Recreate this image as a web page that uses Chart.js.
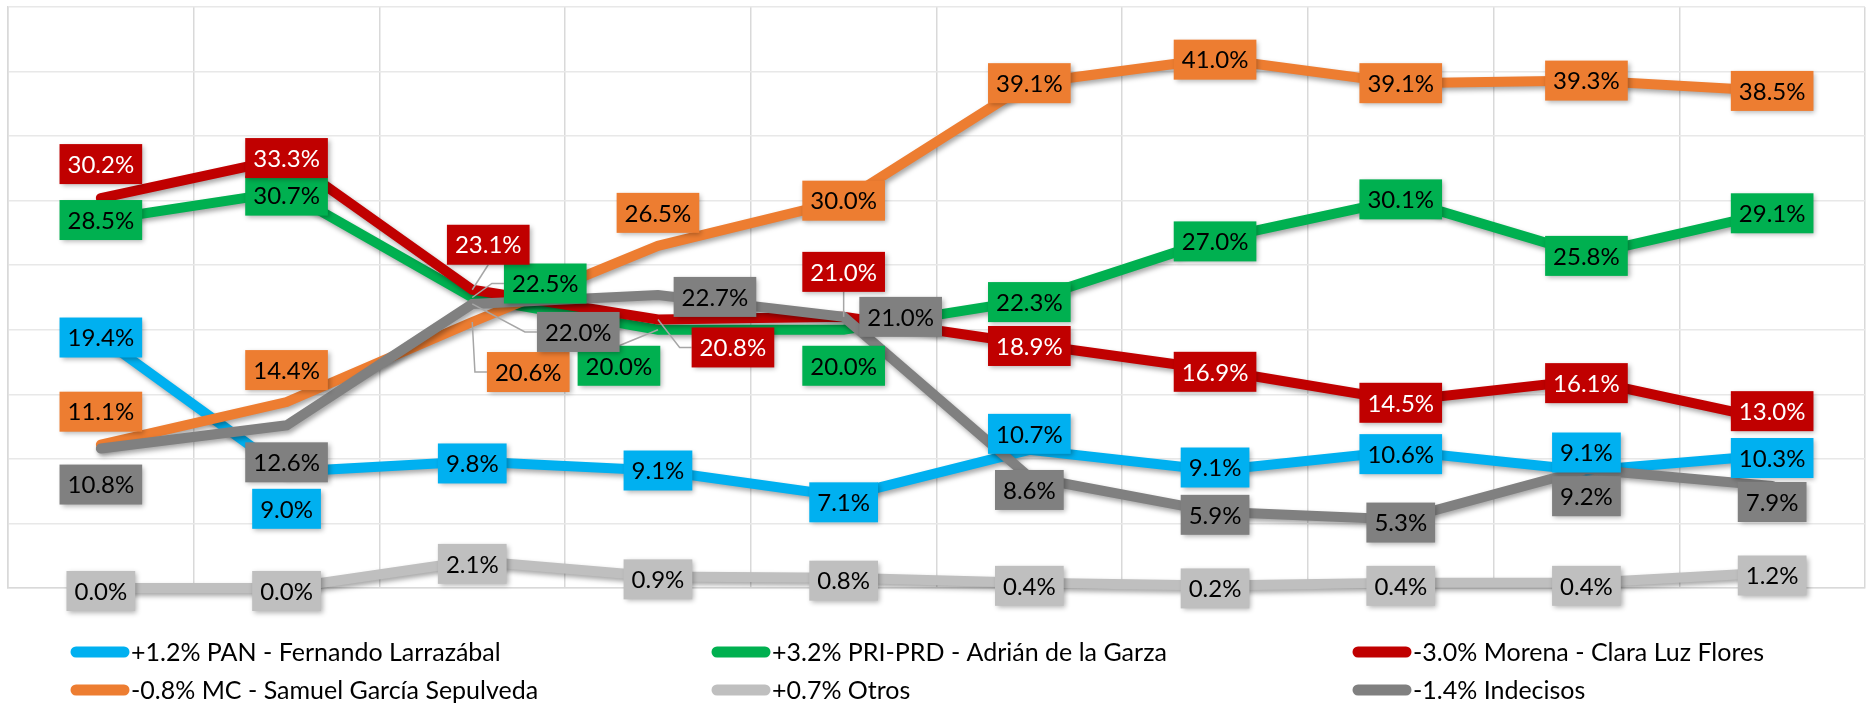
<!DOCTYPE html>
<html>
<head>
<meta charset="utf-8">
<script src="https://cdn.jsdelivr.net/npm/chart.js@4.4.0/dist/chart.umd.min.js"></script>
<style>
  html, body { margin: 0; padding: 0; background: #ffffff; }
  #wrap { position: relative; width: 1866px; height: 707px; }
</style>
</head>
<body>
<div id="wrap"><canvas id="c"></canvas></div>
<script>
// ---- data ----
const categories = ['Medición 1','Medición 2','Medición 3','Medición 4','Medición 5','Medición 6','Medición 7','Medición 8','Medición 9','Medición 10'];
const seriesNames = [
  '+1.2% PAN - Fernando Larrazábal',
  '+3.2% PRI-PRD - Adrián de la Garza',
  '-3.0% Morena - Clara Luz Flores',
  '-0.8% MC - Samuel García Sepulveda',
  '+0.7% Otros',
  '-1.4% Indecisos'
];
const pan       = [19.4, 9.0, 9.8, 9.1, 7.1, 10.7, 9.1, 10.6, 9.1, 10.3];
const priPrd    = [28.5, 30.7, 22.5, 20.0, 20.0, 22.3, 27.0, 30.1, 25.8, 29.1];
const morena    = [30.2, 33.3, 23.1, 20.8, 21.0, 18.9, 16.9, 14.5, 16.1, 13.0];
const mc        = [11.1, 14.4, 20.6, 26.5, 30.0, 39.1, 41.0, 39.1, 39.3, 38.5];
const otros     = [0.0, 0.0, 2.1, 0.9, 0.8, 0.4, 0.2, 0.4, 0.4, 1.2];
const indecisos = [10.8, 12.6, 22.0, 22.7, 21.0, 8.6, 5.9, 5.3, 9.2, 7.9];
const yTicks = [0, 5, 10, 15, 20, 25, 30, 35, 40, 45];

// ---- styles ----
const colors = ['#00B0F0', '#00B050', '#C00000', '#ED7D31', '#BFBFBF', '#808080'];
const labelTextColors = ['#000000', '#000000', '#FFFFFF', '#000000', '#000000', '#000000'];

// label displacement (px) relative to the plotted point; third item = leader line
const labelOffsets = [
  [[0,0],[0,37],[0,2],[0,0],[0,6],[0,-16],[0,-3],[0,3],[0,-18],[0,3]],
  [[0,0],[0,4],[73,-14,1],[-39,36,1],[0,36],[0,2],[0,2],[0,0],[0,1],[0,1]],
  [[0,-34],[0,0],[16,-45,1],[75,28,1],[0,-45,1],[0,2],[0,2],[0,2],[0,3],[0,-9]],
  [[0,-33],[0,-32],[56,50,1],[0,-33],[0,0],[0,0],[0,1],[0,0],[0,0],[0,0]],
  [[0,3],[0,3],[0,3],[0,3],[0,3],[0,3],[0,3],[0,3],[0,3],[0,3]],
  [[0,36],[0,37],[106,28,1],[57,2],[57,0],[0,13],[0,3],[0,3],[0,27],[0,16]]
];

const allSeries = [pan, priPrd, morena, mc, otros, indecisos];
const LABEL_FONT = '24px Lato';
const BOX_H = 40;
const BOX_PAD = 8;

const shadowPlugin = {
  id: 'lineShadow',
  beforeDatasetDraw(chart) {
    const ctx = chart.ctx;
    ctx.save();
    ctx.shadowColor = 'rgba(0,0,0,0.35)';
    ctx.shadowBlur = 5;
    ctx.shadowOffsetX = 2;
    ctx.shadowOffsetY = 3;
  },
  afterDatasetDraw(chart) {
    chart.ctx.restore();
  }
};

function fmt(v) { return v.toFixed(1) + '%'; }

const labelPlugin = {
  id: 'pointLabels',
  afterDatasetsDraw(chart) {
    const ctx = chart.ctx;
    ctx.save();
    ctx.font = LABEL_FONT;
    const items = [];
    allSeries.forEach((vals, di) => {
      const meta = chart.getDatasetMeta(di);
      meta.data.forEach((pt, i) => {
        const off = labelOffsets[di][i];
        const text = fmt(vals[i]);
        const w = ctx.measureText(text).width + BOX_PAD * 2;
        items.push({di, px: pt.x, py: pt.y, cx: pt.x + off[0], cy: pt.y + off[1], w, text, leader: !!off[2]});
      });
    });
    // leader lines
    ctx.strokeStyle = '#A6A6A6';
    ctx.lineWidth = 1.5;
    items.forEach(it => {
      if (!it.leader) return;
      const dx = it.cx - it.px;
      ctx.beginPath();
      ctx.moveTo(it.px, it.py);
      if (Math.abs(dx) > it.w / 2) {
        const s = Math.sign(dx);
        const edge = it.cx - s * it.w / 2;
        ctx.lineTo(edge - s * 12, it.cy);
        ctx.lineTo(edge, it.cy);
      } else {
        const edgeY = it.cy > it.py ? it.cy - BOX_H / 2 : it.cy + BOX_H / 2;
        ctx.lineTo(it.cx, edgeY);
      }
      ctx.stroke();
    });
    // boxes + text, series by series
    items.forEach(it => {
      ctx.save();
      ctx.shadowColor = 'rgba(0,0,0,0.3)';
      ctx.shadowBlur = 5;
      ctx.shadowOffsetX = 2;
      ctx.shadowOffsetY = 2;
      ctx.fillStyle = colors[it.di];
      ctx.fillRect(it.cx - it.w / 2, it.cy - BOX_H / 2, it.w, BOX_H);
      ctx.restore();
      ctx.fillStyle = labelTextColors[it.di];
      ctx.textAlign = 'center';
      ctx.textBaseline = 'middle';
      ctx.fillText(it.text, it.cx, it.cy + 1);
    });
    ctx.restore();
  }
};

const legendPlugin = {
  id: 'gridLegend',
  afterDraw(chart) {
    const ctx = chart.ctx;
    const colX = [70, 711, 1352];
    const rowY = [652, 690];
    ctx.save();
    ctx.font = '25px Lato';
    ctx.textAlign = 'left';
    ctx.textBaseline = 'middle';
    seriesNames.forEach((name, i) => {
      const x = colX[i % 3];
      const y = rowY[Math.floor(i / 3)];
      ctx.strokeStyle = colors[i];
      ctx.lineWidth = 11;
      ctx.lineCap = 'round';
      ctx.beginPath();
      ctx.moveTo(x + 6, y);
      ctx.lineTo(x + 54, y);
      ctx.stroke();
      ctx.fillStyle = '#000000';
      ctx.fillText(name, x + 61, y + 1);
    });
    ctx.restore();
  }
};

const datasets = allSeries.map((vals, i) => ({
  label: seriesNames[i],
  data: vals,
  borderColor: colors[i],
  backgroundColor: colors[i],
  borderWidth: 10,
  pointRadius: 0,
  pointHoverRadius: 0,
  tension: 0,
  fill: false,
  clip: false,
  borderCapStyle: 'round',
  borderJoinStyle: 'miter',
  order: allSeries.length - i
}));

new Chart(document.getElementById('c'), {
  type: 'line',
  data: { labels: categories, datasets },
  options: {
    responsive: true,
    maintainAspectRatio: false,
    animation: false,
    devicePixelRatio: 1,
    layout: { padding: { left: 8, top: 7, right: 1, bottom: 119 } },
    plugins: {
      legend: { display: false },
      tooltip: { enabled: false }
    },
    scales: {
      x: {
        offset: true,
        ticks: { display: false },
        grid: { offset: true, drawTicks: false, color: '#D9D9D9', lineWidth: 1.5 },
        border: { display: true, color: '#D9D9D9', width: 1.5 }
      },
      y: {
        min: yTicks[0],
        max: yTicks[yTicks.length - 1],
        afterBuildTicks: (scale) => { scale.ticks = yTicks.map(v => ({ value: v })); },
        ticks: { display: false },
        grid: { drawTicks: false, color: '#E8E8E8', lineWidth: 1.5 },
        border: { display: true, color: '#D9D9D9', width: 1.5 }
      }
    }
  },
  plugins: [shadowPlugin, labelPlugin, legendPlugin]
});
</script>
</body>
</html>
